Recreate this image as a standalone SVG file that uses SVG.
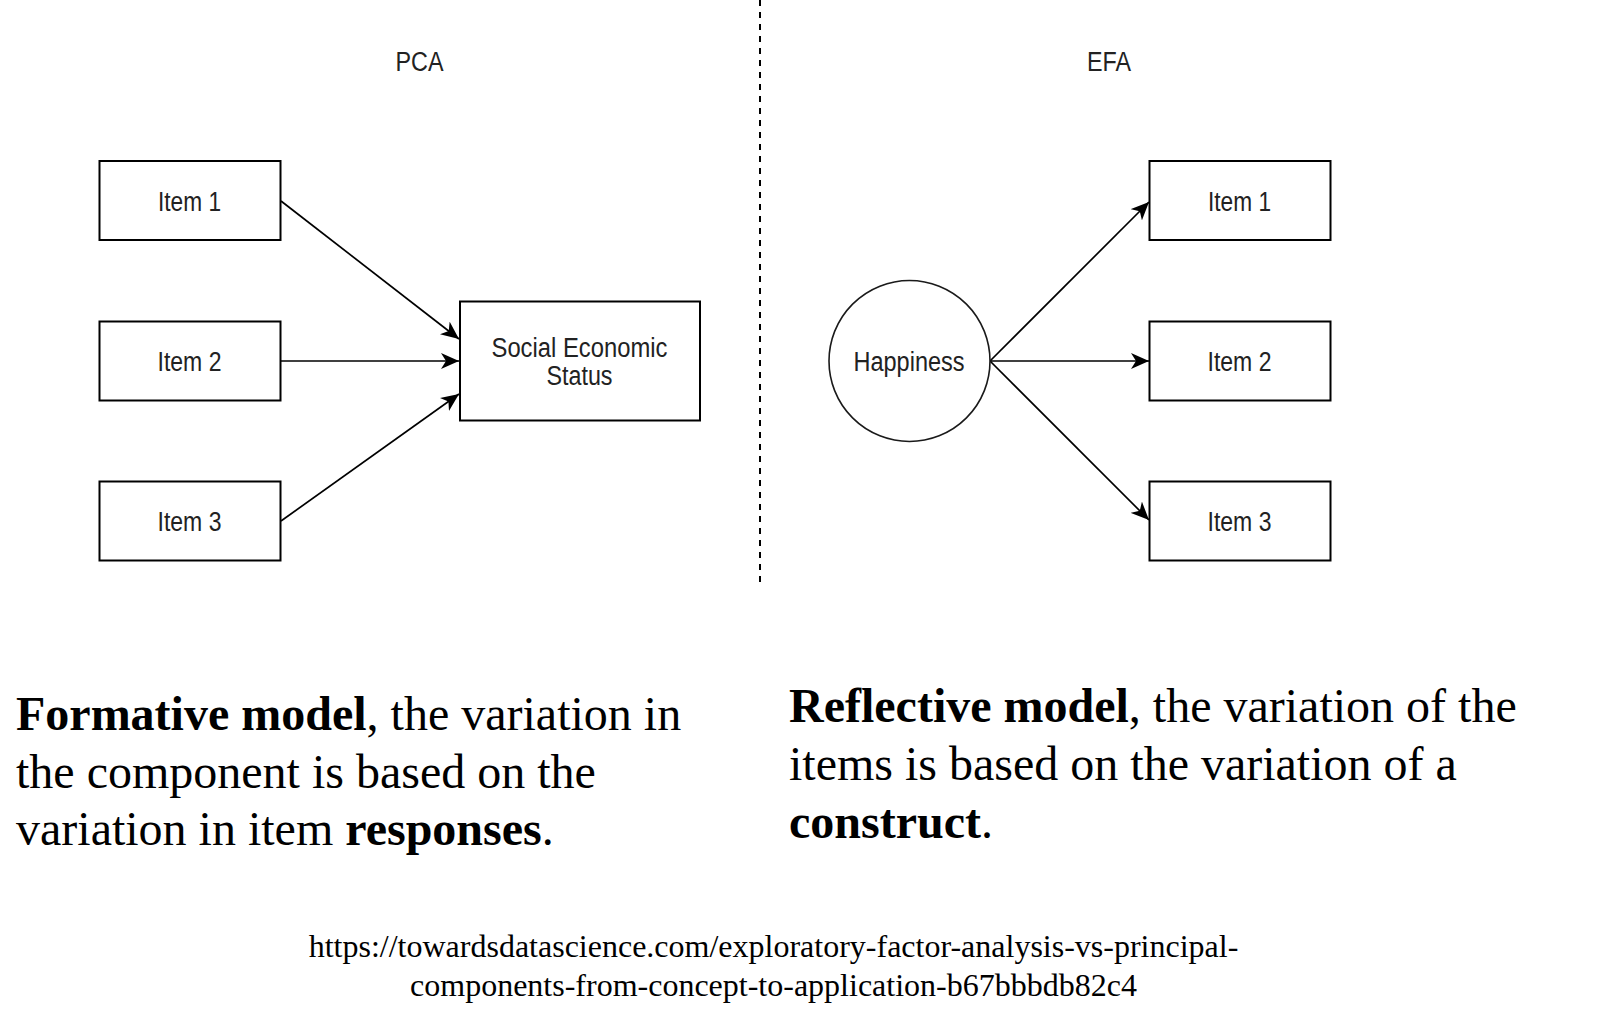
<svg xmlns="http://www.w3.org/2000/svg" width="1602" height="1012" viewBox="0 0 1602 1012">
<style>
.box{fill:#fff;stroke:#000;stroke-width:2}
.circ{fill:#fff;stroke:#1a1a1a;stroke-width:1.6}
.lbl{font-family:"Liberation Sans",Arial,sans-serif;font-size:27px;fill:#222;text-anchor:middle}
.conn{stroke:#000;stroke-width:1.7;fill:none;marker-end:url(#arr)}
.body{font-family:"Liberation Serif","Times New Roman",serif;font-size:48px;fill:#000}
.url{font-family:"Liberation Serif","Times New Roman",serif;font-size:32px;fill:#000;text-anchor:middle}
</style>
<defs>
<marker id="arr" markerUnits="userSpaceOnUse" viewBox="0 0 18 16" refX="18" refY="8" markerWidth="18" markerHeight="16" orient="auto">
<path d="M0,0 L18,8 L0,16 L5,8 Z" fill="#000"/>
</marker>
</defs>
<rect width="1602" height="1012" fill="#fff"/>

<line x1="760" y1="0" x2="760" y2="582" stroke="#000" stroke-width="2" stroke-dasharray="6 6"/>

<text class="lbl" x="419.5" y="71" textLength="48" lengthAdjust="spacingAndGlyphs">PCA</text>
<text class="lbl" x="1109" y="71" textLength="44" lengthAdjust="spacingAndGlyphs">EFA</text>

<g id="connectors">
<line class="conn" x1="281" y1="201" x2="459" y2="339"/>
<line class="conn" x1="281" y1="361" x2="459" y2="361"/>
<line class="conn" x1="281" y1="521" x2="459" y2="394"/>
<line class="conn" x1="990" y1="361" x2="1149" y2="202"/>
<line class="conn" x1="990" y1="361" x2="1149" y2="361"/>
<line class="conn" x1="990" y1="361" x2="1149" y2="520"/>
</g>

<g id="pca-item1"><rect class="box" x="99.5" y="161" width="181" height="79"/><text class="lbl" x="189.5" y="210.5" textLength="63" lengthAdjust="spacingAndGlyphs">Item 1</text></g>
<g id="pca-item2"><rect class="box" x="99.5" y="321.5" width="181" height="79"/><text class="lbl" x="189.5" y="371" textLength="64" lengthAdjust="spacingAndGlyphs">Item 2</text></g>
<g id="pca-item3"><rect class="box" x="99.5" y="481.5" width="181" height="79"/><text class="lbl" x="189.5" y="531" textLength="64" lengthAdjust="spacingAndGlyphs">Item 3</text></g>
<g id="ses"><rect class="box" x="460" y="301.5" width="240" height="119"/><text class="lbl" x="579.5" y="357" textLength="176" lengthAdjust="spacingAndGlyphs">Social Economic</text><text class="lbl" x="579.5" y="384.5" textLength="66" lengthAdjust="spacingAndGlyphs">Status</text></g>

<g id="happiness"><circle class="circ" cx="909.5" cy="361" r="80.5"/><text class="lbl" x="909" y="371" textLength="111" lengthAdjust="spacingAndGlyphs">Happiness</text></g>
<g id="efa-item1"><rect class="box" x="1149.5" y="161" width="181" height="79"/><text class="lbl" x="1239.5" y="210.5" textLength="63" lengthAdjust="spacingAndGlyphs">Item 1</text></g>
<g id="efa-item2"><rect class="box" x="1149.5" y="321.5" width="181" height="79"/><text class="lbl" x="1239.5" y="371" textLength="64" lengthAdjust="spacingAndGlyphs">Item 2</text></g>
<g id="efa-item3"><rect class="box" x="1149.5" y="481.5" width="181" height="79"/><text class="lbl" x="1239.5" y="531" textLength="64" lengthAdjust="spacingAndGlyphs">Item 3</text></g>

<text class="body" x="16" y="729.5"><tspan font-weight="bold">Formative model</tspan>, the variation in</text>
<text class="body" x="16" y="788">the component is based on the</text>
<text class="body" x="16" y="845">variation in item <tspan font-weight="bold">responses</tspan>.</text>

<text class="body" x="789" y="722"><tspan font-weight="bold">Reflective model</tspan>, the variation of the</text>
<text class="body" x="789" y="780">items is based on the variation of a</text>
<text class="body" x="789" y="838"><tspan font-weight="bold">construct</tspan>.</text>

<text class="url" x="773.5" y="957">https://towardsdatascience.com/exploratory-factor-analysis-vs-principal-</text>
<text class="url" x="773.5" y="996">components-from-concept-to-application-b67bbbdb82c4</text>
</svg>
